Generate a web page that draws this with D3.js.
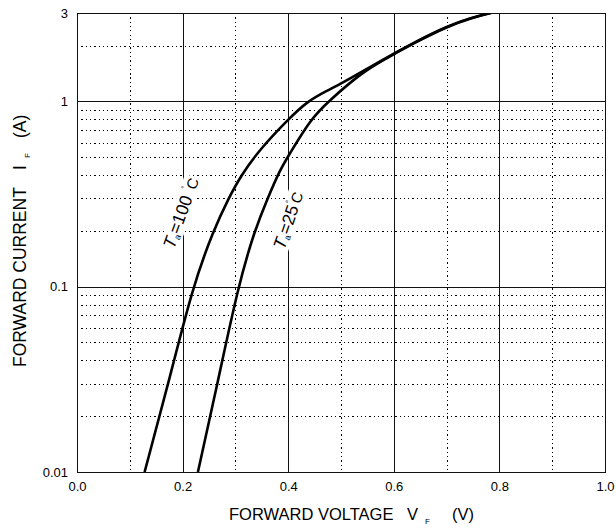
<!DOCTYPE html>
<html>
<head>
<meta charset="utf-8">
<script src="https://cdn.jsdelivr.net/npm/d3@7"></script>
<style>
  html, body { margin: 0; padding: 0; background: #fff; }
  svg { display: block; font-family: "Liberation Sans", Arial, Helvetica, sans-serif; }
</style>
</head>
<body>
<svg id="chart" width="616" height="530"></svg>
<script>
// ---- data ----
const vf100 = [0.128, 0.173, 0.219, 0.258, 0.287, 0.311, 0.346, 0.400, 0.436, 0.473, 0.505, 0.535, 0.574, 0.638, 0.701, 0.745, 0.783];
const if100 = [0.01, 0.03, 0.1, 0.2, 0.3, 0.4, 0.55, 0.8, 1.0, 1.14, 1.27, 1.42, 1.65, 2.08, 2.55, 2.82, 3.0];
const vf25  = [0.229, 0.266, 0.305, 0.336, 0.361, 0.385, 0.399, 0.442, 0.476, 0.538, 0.576, 0.640, 0.703, 0.747, 0.784];
const if25  = [0.01, 0.03, 0.1, 0.2, 0.3, 0.43, 0.5, 0.8, 1.0, 1.42, 1.65, 2.08, 2.55, 2.82, 3.0];

const xMajor = [0.0, 0.2, 0.4, 0.6, 0.8, 1.0];
const xMajorLabels = ["0.0", "0.2", "0.4", "0.6", "0.8", "1.0"];
const xMinor = [0.1, 0.3, 0.5, 0.7, 0.9];
const yMajor = [0.01, 0.1, 1, 3];
const yMajorLabels = ["0.01", "0.1", "1", "3"];
const yMinor = [0.02, 0.03, 0.04, 0.05, 0.06, 0.07, 0.08, 0.09, 0.2, 0.3, 0.4, 0.5, 0.6, 0.7, 0.8, 0.9, 2];

const curveLabels = [
  { name: "100", v: 0.197, i: 0.250, deg: " ", angle: -70 },
  { name: "25",  v: 0.400, i: 0.228, deg: "",  angle: -71 }
];

// ---- layout ----
const L = 77, R = 605, T = 13, B = 472;
const svg = d3.select("#chart");
const x = d3.scaleLinear().domain([0, 1]).range([L, R]);
const y = d3.scaleLog().domain([0.01, 3]).range([B, T]);

// ---- grid ----
const grid = svg.append("g").attr("shape-rendering", "crispEdges");
grid.selectAll(".vmin").data(xMinor).join("line")
  .attr("x1", d => Math.round(x(d)) + 0.5).attr("x2", d => Math.round(x(d)) + 0.5)
  .attr("y1", T).attr("y2", B)
  .attr("stroke", "#000").attr("stroke-width", 1).attr("stroke-dasharray", "1.3,3");
grid.selectAll(".hmin").data(yMinor).join("line")
  .attr("y1", d => Math.round(y(d)) + 0.5).attr("y2", d => Math.round(y(d)) + 0.5)
  .attr("x1", L).attr("x2", R)
  .attr("stroke", "#000").attr("stroke-width", 1).attr("stroke-dasharray", "1.3,3");
grid.selectAll(".vmaj").data(xMajor).join("line")
  .attr("x1", d => Math.round(x(d)) + 0.5).attr("x2", d => Math.round(x(d)) + 0.5)
  .attr("y1", T).attr("y2", B + 0.5)
  .attr("stroke", "#111").attr("stroke-width", 1.3);
grid.selectAll(".hmaj").data(yMajor).join("line")
  .attr("y1", d => Math.round(y(d)) + 0.5).attr("y2", d => Math.round(y(d)) + 0.5)
  .attr("x1", L).attr("x2", R + 1)
  .attr("stroke", "#111").attr("stroke-width", 1.3);

// ---- curve labels (white box behind, drawn before curves) ----
const lblG = svg.append("g");
curveLabels.forEach(c => {
  const g = lblG.append("g")
    .attr("transform", `translate(${x(c.v)},${y(c.i)}) rotate(${c.angle})`);
  const bg = g.append("rect").attr("fill", "#fff");
  const t = g.append("text")
    .attr("text-anchor", "middle")
    .attr("dominant-baseline", "central")
    .attr("font-size", 17.5).attr("fill", "#000");
  t.append("tspan").attr("font-style", "italic").text("T");
  t.append("tspan").attr("font-size", 9).attr("dy", 5).text("a");
  t.append("tspan").attr("dy", -5).text("=" + c.name + c.deg);
  t.append("tspan").attr("font-size", 8).attr("dy", -6).text("°");
  t.append("tspan").attr("dy", 6).attr("font-size", 15).text("C");
  const bb = t.node().getBBox();
  bg.attr("x", bb.x - 1).attr("y", bb.y + 1).attr("width", bb.width + 2).attr("height", bb.height - 1);
});

// ---- curves ----
const line = d3.line()
  .x(d => x(d[0])).y(d => y(d[1]))
  .curve(d3.curveBasis);
svg.append("clipPath").attr("id", "clip")
  .append("rect").attr("x", L).attr("y", T).attr("width", R - L).attr("height", B - T);
const curves = [d3.zip(vf100, if100), d3.zip(vf25, if25)];
svg.append("g").attr("clip-path", "url(#clip)")
  .selectAll("path").data(curves).join("path")
  .attr("d", line)
  .attr("fill", "none").attr("stroke", "#000").attr("stroke-width", 2.6)
  .attr("stroke-linejoin", "round");

// ---- axes ----
const xAxis = d3.axisBottom(x).tickValues(xMajor).tickSize(0).tickPadding(10)
  .tickFormat((d, i) => xMajorLabels[i]);
const gx = svg.append("g").attr("transform", `translate(0,${B})`).call(xAxis);
gx.select(".domain").remove();
gx.selectAll("text").attr("font-size", 13).attr("fill", "#000")
  .attr("font-family", "Liberation Sans, Arial, sans-serif");

const yAxis = d3.axisLeft(y).tickValues(yMajor).tickSize(0).tickPadding(9)
  .tickFormat((d, i) => yMajorLabels[i]);
const gy = svg.append("g").attr("transform", `translate(${L},0)`).call(yAxis);
gy.select(".domain").remove();
gy.selectAll("text").attr("font-size", 13).attr("fill", "#000")
  .attr("font-family", "Liberation Sans, Arial, sans-serif");

// ---- axis titles ----
const xt = svg.append("g").attr("font-size", 16.5).attr("fill", "#000");
xt.append("text").attr("x", 229).attr("y", 520).text("FORWARD VOLTAGE");
xt.append("text").attr("x", 407).attr("y", 520).text("V");
xt.append("text").attr("x", 425).attr("y", 524).attr("font-size", 8).text("F");
xt.append("text").attr("x", 452).attr("y", 520).text("(V)");

const yt = svg.append("g").attr("font-size", 17.5).attr("fill", "#000");
yt.append("text").attr("transform", "translate(25.5,367) rotate(-90)").text("FORWARD CURRENT");
yt.append("text").attr("transform", "translate(25.5,170) rotate(-90)").text("I");
yt.append("text").attr("transform", "translate(30,158) rotate(-90)").attr("font-size", 8).text("F");
yt.append("text").attr("transform", "translate(25.5,138) rotate(-90)").text("(A)");
</script>
</body>
</html>
